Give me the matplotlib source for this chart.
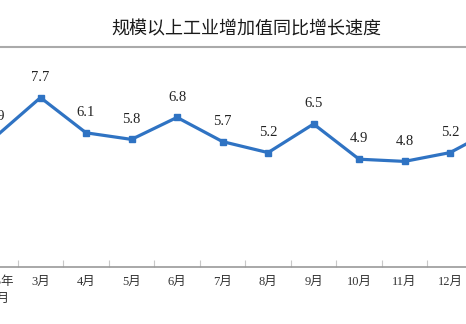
import matplotlib
matplotlib.use("Agg")
import matplotlib.pyplot as plt
from matplotlib.ticker import FixedLocator

# 规模以上工业增加值同比增长速度 (%)
months = ["2025年\n1-2月", "3月", "4月", "5月", "6月", "7月", "8月",
          "9月", "10月", "11月", "12月", "2026年\n1-2月"]
growth = [5.9, 7.7, 6.1, 5.8, 6.8, 5.7, 5.2, 6.5, 4.9, 4.8, 5.2, 6.3]

blue = "#2F73C3"
serif = ["Liberation Serif", "Noto Sans CJK SC"]

fig = plt.figure(figsize=(4.66, 3.24), dpi=100)
ax = fig.add_axes([0, (324 - 267) / 324, 1, (267 - 47) / 324])

x = list(range(len(months)))
ax.plot(x, growth, color=blue, lw=2.3, marker="s", ms=4.5, clip_on=True)
for xi, v in zip(x, growth):
    ax.annotate(f"{v:.1f}", (xi, v), xytext=(0, 10), textcoords="offset points",
                ha="center", va="bottom", fontsize=10.5, family=serif,
                color="#222222", annotation_clip=False)

# the view is cropped: first and last months sit just outside the frame,
# so month names are written by hand (matplotlib drops out-of-view tick labels)
xt = ax.get_xaxis_transform()
for xi, m in zip(x, months):
    ax.text(xi, -0.04, m, transform=xt, ha="center", va="top", fontsize=9,
            family=serif, color="#333333", linespacing=1.6, clip_on=False)

ax.set_yticks([])
ax.set_xticks([])
ax.xaxis.set_minor_locator(FixedLocator([i + 0.5 for i in range(-1, len(months))]))
ax.tick_params(axis="x", which="minor", direction="in", length=5,
               color="#c8c8c8", width=0.8)
ax.set_ylim(0, 10)
ax.set_xlim(0.11, 10.35)

for s in ["left", "right"]:
    ax.spines[s].set_visible(False)
ax.spines["bottom"].set_color("#999999")
ax.spines["bottom"].set_linewidth(1.2)
ax.spines["top"].set_color("#aaaaaa")
ax.spines["top"].set_linewidth(1.5)

fig.text(0.528, 1 - 29 / 324, "规模以上工业增加值同比增长速度", ha="center", va="center",
         fontsize=13, family=["Noto Sans CJK SC", "DejaVu Sans"], color="#1a1a1a")

fig.savefig("out.png", dpi=100)
